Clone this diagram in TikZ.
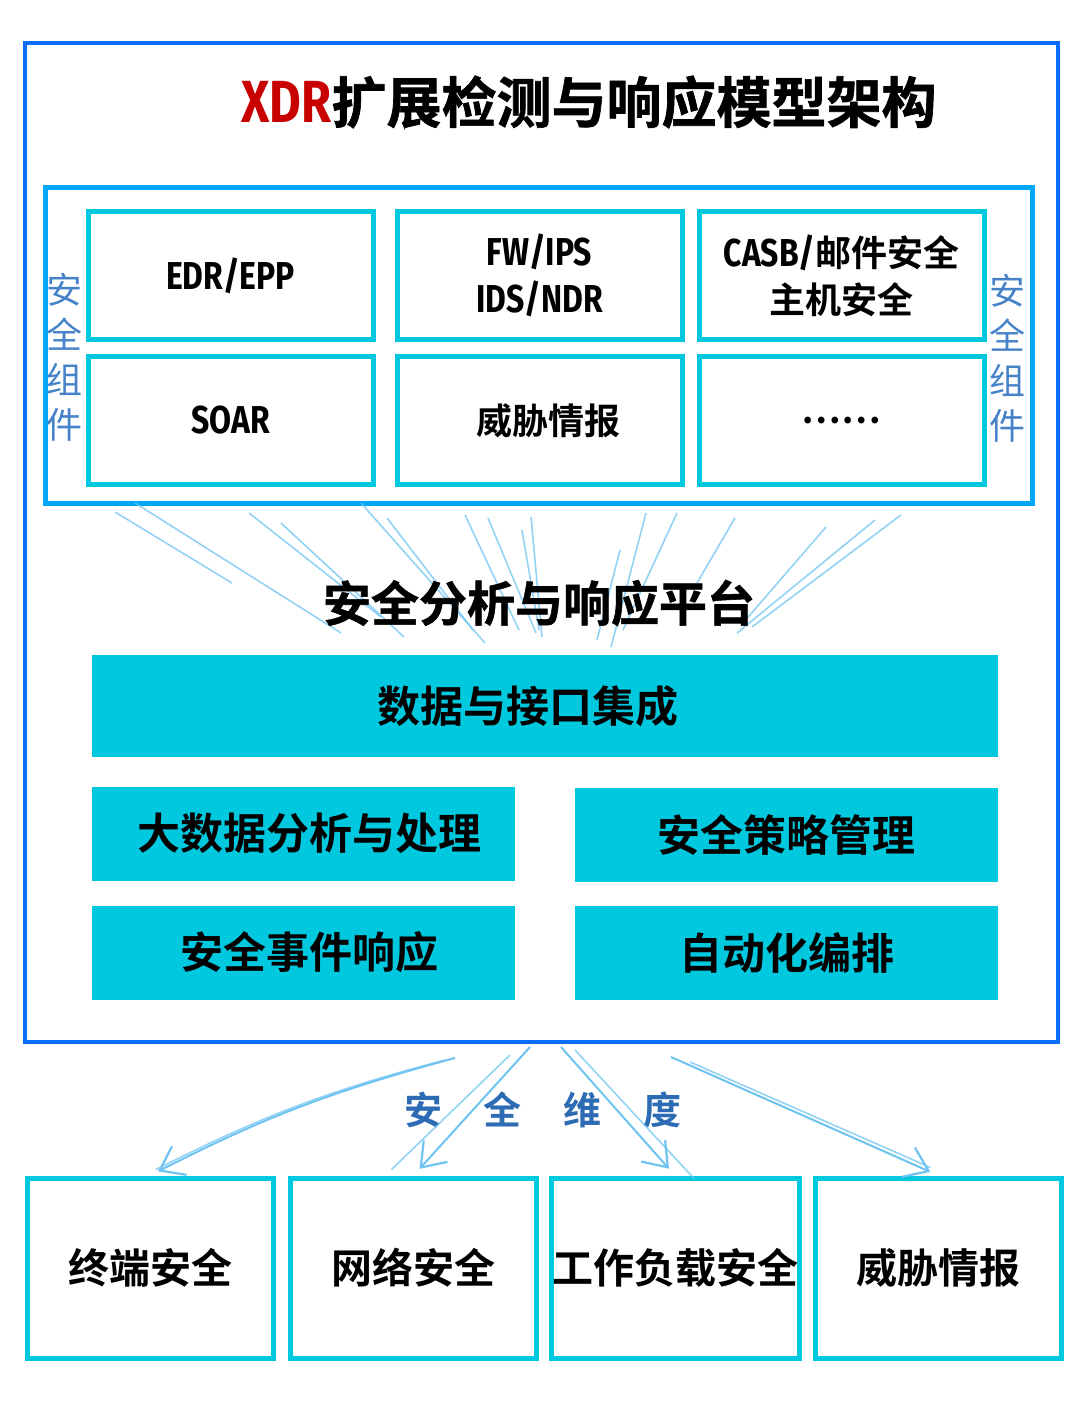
\documentclass[tikz,border=0pt]{standalone}
\usepackage{fontspec}
\setmainfont{Noto Sans CJK SC}[BoldFont={Noto Sans CJK SC Bold}]
\newfontfamily\latc{Fira Sans}[FakeStretch=0.82,Scale=1.08]
\newfontfamily\heavy{Noto Sans CJK SC Bold}[FakeBold=1.2]
\usetikzlibrary{arrows.meta}
\definecolor{outerblue}{RGB}{10,110,250}
\definecolor{frameblue}{RGB}{0,166,250}
\definecolor{boxcyan}{RGB}{0,200,222}
\definecolor{raylight}{RGB}{110,195,240}
\definecolor{sidetext}{RGB}{70,130,200}
\definecolor{dimtext}{RGB}{45,108,180}
\definecolor{xdrred}{RGB}{200,0,0}
\tikzset{
  compbox/.style={draw=boxcyan,line width=5pt,minimum width=285pt,minimum height=128pt,align=center,font=\fontsize{36}{47}\selectfont\bfseries},
  platbox/.style={fill=boxcyan,minimum width=423pt,minimum height=94pt,font=\fontsize{43}{48}\selectfont\bfseries},
  dimbox/.style={draw=boxcyan,line width=5pt,inner sep=1pt,minimum width=246pt,minimum height=180pt,font=\fontsize{41}{48}\selectfont\bfseries},
  sidelabel/.style={sidetext,align=center,font=\fontsize{36}{45}\selectfont},
  ray/.style={raylight,line width=1.6pt,opacity=0.75},
  dimarrow/.style={raylight,line width=2pt,shorten >=9pt,-{Straight Barb[length=22pt,width=32pt,line width=2.2pt]}},
}
\begin{document}
\begin{tikzpicture}[x=1pt,y=-1pt]
	\useasboundingbox (0,0) rectangle (1080,1402);
	%frames
	\draw[outerblue,line width=4pt] (25,43) rectangle (1058,1042); %outer XDR box
	\draw[frameblue,line width=5pt] (45,187) rectangle (1032,503); %components frame
	
	%title
	\node (title) at (589,102) {\fontsize{55}{60}\selectfont{\latc\bfseries\color{xdrred}XDR}\heavy 扩展检测与响应模型架构};
	
	%security components
	\node[compbox] (edr) at (230.5,275.5) {\latc EDR/EPP};
	\node[compbox] (fw) at (539.5,275.5) {\latc FW/IPS\\\latc IDS/NDR};
	\node[compbox] (casb) at (841.5,275.5) {{\latc CASB/}邮件安全\\主机安全};
	\node[compbox] (soar) at (230.5,420.5) {\latc SOAR};
	\node[compbox] (intel) at (539.5,420.5) {\hspace*{18pt}威胁情报};
	\node[compbox] (more) at (841.5,420.5) {……};
	\node[sidelabel] (lside) at (64,357) {安\\全\\组\\件};
	\node[sidelabel] (rside) at (1007,358) {安\\全\\组\\件};
	
	%rays
	\foreach \xa/\ya/\xb/\yb in {115/512/232/583, 135/503/341/633, 249/513/381/617, 281/523/404/637,
	  361/503/485/643, 387/518/473/630, 465/515/519/630, 488/518/536/633, 531/517/542/637, 522/530/539/630,
	  646/513/611/647, 677/513/623/630, 620/550/597/640, 735/518/697/583, 826/527/743/623,
	  875/520/737/633, 901/515/752/627}
	  \draw[ray] (\xa,\ya) -- (\xb,\yb);
	
	%platform
	\node (platform) at (539,603) {\fontsize{48}{54}\selectfont\heavy 安全分析与响应平台};
	\node[platbox,minimum width=906pt,minimum height=102pt] (integ) at (545,706) {\hspace*{-34pt}数据与接口集成};
	\node[platbox] (bigdata) at (303.5,833.5) {\hspace*{12pt}大数据分析与处理};
	\node[platbox] (policy) at (786.5,835) {安全策略管理};
	\node[platbox] (incident) at (303.5,952.5) {\hspace*{12pt}安全事件响应};
	\node[platbox] (orch) at (786.5,952.5) {自动化编排};
	
	%dimensions
	\node[dimtext] (dims) at (543,1110) {\fontsize{38}{44}\selectfont\bfseries 安\hspace{42pt}全\hspace{42pt}维\hspace{42pt}度};
	\node[dimbox] (endpoint) at (150,1268) {\raisebox{-5pt}{终端安全}};
	\node[dimbox] (network) at (413.5,1268) {\raisebox{-5pt}{网络安全}};
	\node[dimbox] (workload) at (675,1268) {\raisebox{-5pt}{工作负载安全}};
	\node[dimbox] (threat) at (938.5,1268) {\raisebox{-5pt}{威胁情报}};
	
	%arrows
	\coordinate (s1) at (455,1058); \coordinate (s1b) at (445,1060);
	\coordinate (s2) at (530,1047); \coordinate (s2b) at (510,1055);
	\coordinate (s3) at (561,1047); \coordinate (s3b) at (575,1050);
	\coordinate (s4) at (671,1057); \coordinate (s4b) at (690,1062);
	\draw[dimarrow] (s1) to[bend right=6] (endpoint.north);
	\draw[ray] (s1b) to[bend right=6] ([xshift=6pt,yshift=6pt]endpoint.north);
	\draw[dimarrow] (s2) -- (network.north);
	\draw[ray] (s2b) -- ([xshift=-22pt,yshift=6pt]network.north);
	\draw[dimarrow] (s3) -- (workload.north);
	\draw[ray] (s3b) -- ([xshift=20pt,yshift=-4pt]workload.north);
	\draw[dimarrow] (s4) -- (threat.north);
	\draw[ray] (s4b) -- ([xshift=-8pt,yshift=8pt]threat.north);
\end{tikzpicture}
\end{document}
